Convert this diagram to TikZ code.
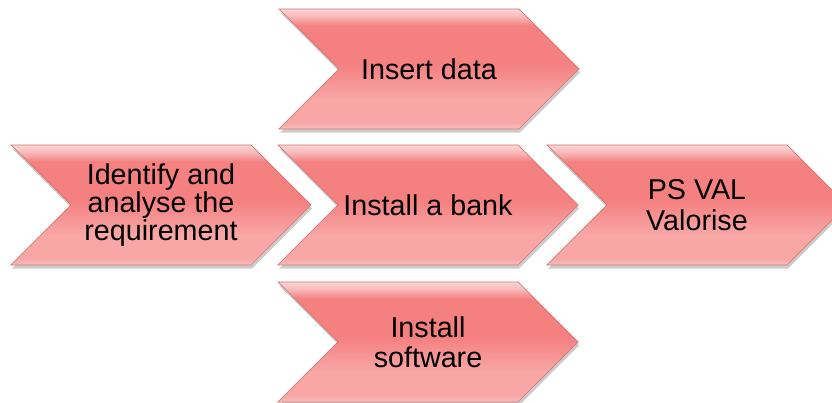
\documentclass[tikz,border=0pt]{standalone}
\usepackage{fontspec}
\setmainfont{Liberation Sans}
\usetikzlibrary{shapes.symbols,shadows}

\definecolor{chevedge}{RGB}{252,214,214}
\definecolor{chevhigh}{RGB}{249,186,186}
\definecolor{chevmid}{RGB}{245,128,128}
\definecolor{chevlow}{RGB}{248,166,166}
\definecolor{chevbot}{RGB}{250,190,190}
\definecolor{chevline}{RGB}{212,118,118}

% vertical shading: path is mapped onto 25bp..75bp
\pgfdeclareverticalshading{chevshade}{100bp}{
  color(0bp)=(chevbot); color(25bp)=(chevbot); color(28bp)=(chevlow);
  color(38bp)=(chevlow); color(52bp)=(chevmid); color(68bp)=(chevmid);
  color(72bp)=(chevhigh); color(75bp)=(chevedge); color(100bp)=(chevedge)}

\tikzset{
  chevron/.style={shape=signal, signal from=west, signal to=east,
    signal pointer angle=90, minimum width=9cm, minimum height=3.6cm,
    inner sep=0pt, draw=chevline, line width=0.6pt, shading=chevshade,
    drop shadow={opacity=0.4, shadow xshift=1pt, shadow yshift=-3pt},
    align=center, font=\fontsize{24.5}{#1}\selectfont},
  chevron/.default=24pt
}

\begin{document}
\begin{tikzpicture}[x=0.03cm,y=0.03cm]
\useasboundingbox (0,0) rectangle (832,403);
\clip (0,0) rectangle (832,403);

% Top chevron
\node[chevron] (insert) at (429,334) {Insert data};

% Middle row
\node[chevron] (identify) at (161,198) {Identify and\\analyse the\\requirement};
\node[chevron] (bank) at (428,198) {Install a bank};
\node[chevron=27pt] (psval) at (697,198) {PS VAL\\Valorise};

% Bottom chevron
\node[chevron=25.5pt] (software) at (428,61) {Install\\software};

\end{tikzpicture}
\end{document}
